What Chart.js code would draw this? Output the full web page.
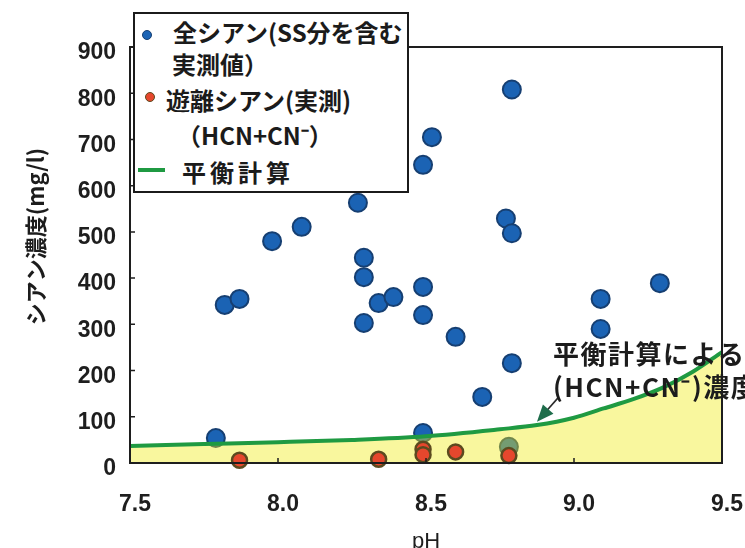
<!DOCTYPE html>
<html>
<head>
<meta charset="utf-8">
<script src="https://cdn.jsdelivr.net/npm/chart.js@4.4.1/dist/chart.umd.min.js"></script>
<style>
  html, body { margin: 0; padding: 0; background: #fff; }
  #wrap { position: relative; width: 745px; height: 548px; overflow: hidden; }
  #legend {
    position: absolute; left: 133px; top: 12px; width: 272px; height: 177px;
    border: 2px solid #1b1b1b; background: #fff; overflow: hidden;
    font-family: "Noto Sans CJK JP", sans-serif; font-weight: 700; font-size: 24px; color: #1b1b1b;
  }
  .lg { position: absolute; white-space: nowrap; line-height: 24px; }
  .mk { position: absolute; border-radius: 50%; box-sizing: border-box; }
</style>
</head>
<body>
<div id="wrap">
  <canvas id="c" width="745" height="548"></canvas>
  <div id="legend"></div>
</div>
<script>
// Axis ticks
const xTicks = [7.5, 8.0, 8.5, 9.0, 9.5];
const xTickLabels = ['7.5', '8.0', '8.5', '9.0', '9.5'];
const yTicks = [0, 100, 200, 300, 400, 500, 600, 700, 800, 900];
const yTickLabels = ['0', '100', '200', '300', '400', '500', '600', '700', '800', '900'];

// Total cyanide incl. suspended solids (measured)
const totalPH = [7.79, 7.82, 7.87, 7.98, 8.08, 8.27, 8.29, 8.29, 8.29, 8.34, 8.39, 8.49, 8.52, 8.49, 8.49, 8.49, 8.60, 8.69, 8.79, 8.77, 8.79, 8.79, 8.78, 9.09, 9.09, 9.29];
const totalCN = [54, 342, 355, 480, 511, 563, 444, 402, 303, 346, 359, 645, 705, 381, 320, 65, 273, 143, 808, 529, 497, 216, 35, 355, 290, 389];

// Free cyanide (measured)
const freePH = [7.87, 8.34, 8.49, 8.49, 8.60, 8.78];
const freeCN = [6, 8, 30, 18, 24, 16];

// Equilibrium calculation curve
const eqPH = [7.5, 7.75, 8.0, 8.25, 8.5, 8.75, 8.875, 9.0, 9.1, 9.2, 9.3, 9.4, 9.5];
const eqCN = [37, 41, 45, 50, 58, 73, 82, 98, 118, 138, 163, 197, 240];

const totalName = ['全シアン(SS分を含む', '実測値）'];
const freeName = ['遊離シアン(実測)', '（HCN+CN⁻）'];
const eqName = ['平衡計算'];
const xTitle = 'pH';
const yTitle = 'シアン濃度(mg/l)';
const noteLines = ['平衡計算による', '(HCN+CN⁻)濃度'];
const noteAt = [8.875, 89];

const BLUE = '#1b63b4', BLUE_EDGE = '#163f72';
const RED = '#e6472d', RED_EDGE = '#5c4a1f';
const GREEN = '#1f9a42';

const pts = (xs, ys) => xs.map((v, i) => ({ x: v, y: ys[i] }));

// Plot frame with inward tick marks
const framePlugin = {
  id: 'frame',
  afterDatasetsDraw(chart) {
    const { ctx, chartArea: a, scales: { x, y } } = chart;
    ctx.save();
    ctx.strokeStyle = '#1e1e1e';
    ctx.lineWidth = 2;
    ctx.strokeRect(a.left, a.top, a.right - a.left, a.bottom - a.top);
    ctx.lineWidth = 1.5;
    ctx.beginPath();
    yTicks.forEach(v => {
      const py = y.getPixelForValue(v);
      ctx.moveTo(a.left, py); ctx.lineTo(a.left + 5, py);
    });
    xTicks.forEach(v => {
      const px = x.getPixelForValue(v);
      ctx.moveTo(px, a.bottom); ctx.lineTo(px, a.bottom - 5);
    });
    ctx.stroke();
    ctx.restore();
  }
};

// Callout for the equilibrium curve, plus the rotated y-axis title
const notePlugin = {
  id: 'note',
  afterDraw(chart) {
    const { ctx, scales: { x, y } } = chart;
    const tx = x.getPixelForValue(noteAt[0]);
    const ty = y.getPixelForValue(noteAt[1]);
    const sx = tx + 21, sy = ty - 24;
    const ang = Math.atan2(ty - sy, tx - sx);
    const L = 17, W = 7;
    ctx.save();
    ctx.strokeStyle = '#2a2a2a';
    ctx.lineWidth = 1.6;
    ctx.beginPath();
    ctx.moveTo(sx, sy);
    ctx.lineTo(tx - (L - 2) * Math.cos(ang), ty - (L - 2) * Math.sin(ang));
    ctx.stroke();
    ctx.fillStyle = '#1e6d4b';
    ctx.beginPath();
    ctx.moveTo(tx, ty);
    ctx.lineTo(tx - L * Math.cos(ang) + W * Math.sin(ang), ty - L * Math.sin(ang) - W * Math.cos(ang));
    ctx.lineTo(tx - L * Math.cos(ang) - W * Math.sin(ang), ty - L * Math.sin(ang) + W * Math.cos(ang));
    ctx.closePath();
    ctx.fill();

    ctx.font = 'bold 26px "Noto Sans CJK JP"';
    ctx.letterSpacing = '1.5px';
    ctx.fillStyle = '#1c1c1c';
    ctx.textBaseline = 'middle';
    ctx.textAlign = 'left';
    ctx.fillText(noteLines[0], tx + 16, ty - 68);
    ctx.fillText(noteLines[1], tx + 16, ty - 35);

    ctx.letterSpacing = '0px';
    ctx.font = 'bold 22px "Noto Sans CJK JP"';
    ctx.translate(36, y.getPixelForValue(490));
    ctx.rotate(-Math.PI / 2);
    ctx.textAlign = 'center';
    ctx.fillText(yTitle, 0, 0);
    ctx.restore();
  }
};

const tickFont = { family: '"Liberation Sans", Arial', size: 23, weight: 'bold' };

const chart = new Chart(document.getElementById('c'), {
  type: 'scatter',
  data: {
    datasets: [
      {
        label: totalName.join(''),
        data: pts(totalPH, totalCN),
        pointRadius: 9, pointHoverRadius: 9,
        pointBackgroundColor: BLUE, pointBorderColor: BLUE_EDGE, pointBorderWidth: 2,
        order: 3, clip: false
      },
      {
        label: eqName.join(''),
        data: pts(eqPH, eqCN),
        showLine: true, pointRadius: 0,
        borderColor: GREEN, borderWidth: 4,
        cubicInterpolationMode: 'monotone',
        fill: 'origin', backgroundColor: 'rgba(240,236,25,0.42)',
        order: 2
      },
      {
        label: freeName.join(''),
        data: pts(freePH, freeCN),
        pointRadius: 7.5, pointHoverRadius: 7.5,
        pointBackgroundColor: RED, pointBorderColor: RED_EDGE, pointBorderWidth: 2.5,
        order: 1, clip: false
      }
    ]
  },
  options: {
    responsive: false,
    animation: false,
    devicePixelRatio: 1,
    layout: { padding: { left: 0, top: 47, right: 23, bottom: 0 } },
    plugins: { legend: { display: false }, tooltip: { enabled: false } },
    scales: {
      x: {
        type: 'linear',
        min: xTicks[0], max: xTicks[xTicks.length - 1],
        afterBuildTicks: s => { s.ticks = xTicks.map(v => ({ value: v })); },
        afterFit: s => { s.height = 85; s.paddingLeft = 0; s.paddingRight = 0; },
        grid: { display: false },
        border: { display: false },
        ticks: {
          autoSkip: false, maxRotation: 0, padding: 20, labelOffset: 5,
          color: '#1e1e1e', font: tickFont,
          callback: (v, i) => xTickLabels[i]
        },
        title: {
          display: true, text: xTitle, color: '#1e1e1e',
          font: { family: '"Liberation Sans", Arial', size: 22, lineHeight: 1.2 },
          padding: { top: 0, bottom: -7 }
        }
      },
      y: {
        type: 'linear',
        min: yTicks[0], max: yTicks[yTicks.length - 1],
        afterBuildTicks: s => { s.ticks = yTicks.map(v => ({ value: v })); },
        afterFit: s => { s.width = 130; s.paddingTop = 0; s.paddingBottom = 0; },
        grid: { display: false },
        border: { display: false },
        ticks: {
          autoSkip: false, padding: 6, labelOffset: 6,
          color: '#1e1e1e', font: tickFont,
          callback: (v, i) => yTickLabels[i]
        }
      }
    }
  },
  plugins: [framePlugin, notePlugin]
});

// Legend box built from the datasets
(function buildLegend() {
  const box = document.getElementById('legend');
  const add = (html) => { box.insertAdjacentHTML('beforeend', html); };
  const rows = [
    { mk: 'dot', fill: BLUE, edge: BLUE_EDGE, mx: 12, my: 21, lines: totalName, tx: [38, 37], ty: [18, 50] },
    { mk: 'dot', fill: RED, edge: RED_EDGE, mx: 15, my: 83, lines: freeName, tx: [31, 42], ty: [86, 121] },
    { mk: 'line', fill: GREEN, mx: 3, my: 156, lines: eqName, tx: [47], ty: [158], ls: 4 }
  ];
  rows.forEach(r => {
    if (r.mk === 'dot') {
      add(`<div class="mk" style="left:${r.mx - 5}px;top:${r.my - 5}px;width:10px;height:10px;background:${r.fill};border:1.5px solid ${r.edge}"></div>`);
    } else {
      add(`<div style="position:absolute;left:${r.mx}px;top:${r.my - 2}px;width:27px;height:4px;background:${r.fill}"></div>`);
    }
    r.lines.forEach((t, i) => {
      add(`<div class="lg" style="left:${r.tx[i]}px;top:${r.ty[i] - 12}px;letter-spacing:${r.ls || 0}px">${t}</div>`);
    });
  });
})();
</script>
</body>
</html>
